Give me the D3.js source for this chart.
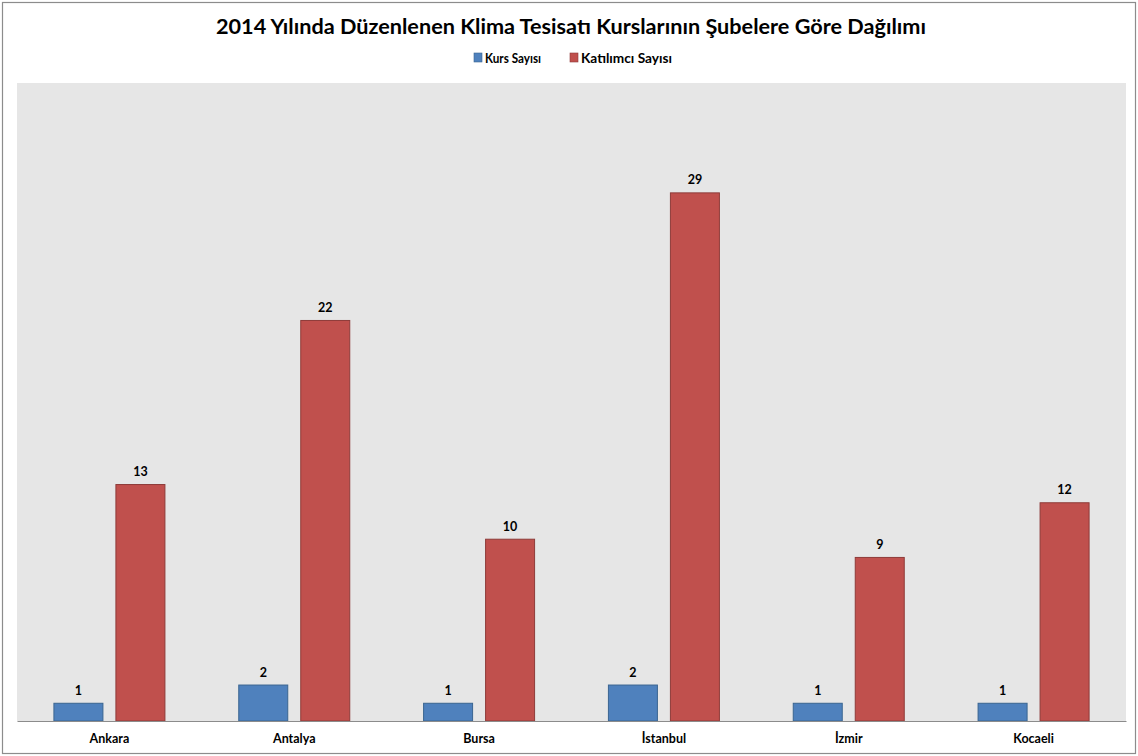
<!DOCTYPE html>
<html><head><meta charset="utf-8">
<script src="https://cdn.jsdelivr.net/npm/d3@7"></script>
<style>body{margin:0;background:#fff}svg{display:block}text{font-family:Lato,"Open Sans",sans-serif;font-weight:bold}</style>
</head><body>
<svg id="c" width="1138" height="756"></svg>
<script>
const categories = ["Ankara","Antalya","Bursa","İstanbul","İzmir","Kocaeli"];
const seriesNames = ["Kurs Sayısı","Katılımcı Sayısı"];
const kursSayisi = [1,2,1,2,1,1];
const katilimciSayisi = [13,22,10,29,9,12];
const yTicks = [0,5,10,15,20,25,30,35];
const colors = ["#4F81BD","#C0504D"];
const strokes = ["#3A6591","#8E3B39"];
const title = "2014 Yılında Düzenlenen Klima Tesisatı Kurslarının Şubelere Göre Dağılımı";

const svg = d3.select("#c");
const W=1138,H=756;
svg.append("rect").attr("x",2.5).attr("y",2.5).attr("width",W-5).attr("height",H-5)
  .attr("fill","#fff").attr("stroke","#8c8c8c").attr("stroke-width",1.2);

const m={left:17,right:1126,top:83,bottom:721};
svg.append("rect").attr("x",m.left).attr("y",m.top).attr("width",m.right-m.left).attr("height",m.bottom-m.top).attr("fill","#E6E6E6");

const x0=d3.scaleBand().domain(categories).range([m.left,m.right]).paddingInner(0).paddingOuter(0);
const step=x0.bandwidth();
const x1=d3.scaleBand().domain(seriesNames).range([0,112]).paddingInner(12/62).paddingOuter(0);
const y=d3.scaleLinear().domain([0,d3.max(yTicks)]).range([m.bottom,m.top]);

const data=categories.map((c,i)=>({c,vals:[kursSayisi[i],katilimciSayisi[i]]}));
const g=svg.append("g");
const grp=g.selectAll("g.grp").data(data).join("g").attr("transform",d=>`translate(${x0(d.c)+(step-112)/2},0)`);
grp.selectAll("rect").data(d=>d.vals.map((v,j)=>({v,j}))).join("rect")
  .attr("x",d=>x1(seriesNames[d.j])+0.5).attr("width",x1.bandwidth()-1)
  .attr("y",d=>y(d.v)+0.5).attr("height",d=>y(0)-y(d.v)-0.5)
  .attr("fill",d=>colors[d.j]).attr("stroke",d=>strokes[d.j]).attr("stroke-width",1);
grp.selectAll("text").data(d=>d.vals.map((v,j)=>({v,j}))).join("text")
  .attr("x",d=>x1(seriesNames[d.j])+x1.bandwidth()/2).attr("y",d=>y(d.v)-8)
  .attr("text-anchor","middle").attr("font-size",12.5).attr("fill","#000").text(d=>d.v);

// x axis
const xa=svg.append("g").attr("transform",`translate(0,${m.bottom})`).call(d3.axisBottom(x0).tickSize(0).tickPadding(13));
xa.select(".domain").attr("stroke","#8c8c8c").attr("stroke-width",1.2);
xa.selectAll("text").attr("font-size",12.5).attr("fill","#000").attr("font-family","Lato,sans-serif").attr("font-weight","bold");

// title
svg.append("text").attr("x",571).attr("y",34).attr("text-anchor","middle").attr("font-size",21.5).attr("fill","#000")
  .attr("textLength",710).attr("lengthAdjust","spacingAndGlyphs").text(title);

// legend
const leg=svg.append("g");
const items=[{n:seriesNames[0],x:474,w:67},{n:seriesNames[1],x:570,w:102}];
items.forEach((it,i)=>{
  leg.append("rect").attr("x",it.x).attr("y",53).attr("width",8).attr("height",9).attr("fill",colors[i]).attr("stroke",strokes[i]).attr("stroke-width",0.6);
  leg.append("text").attr("x",it.x+11).attr("y",62.5).attr("font-size",12.5).attr("fill","#000")
    .attr("textLength",it.w-11).attr("lengthAdjust","spacingAndGlyphs").text(it.n);
});
</script>
</body></html>
